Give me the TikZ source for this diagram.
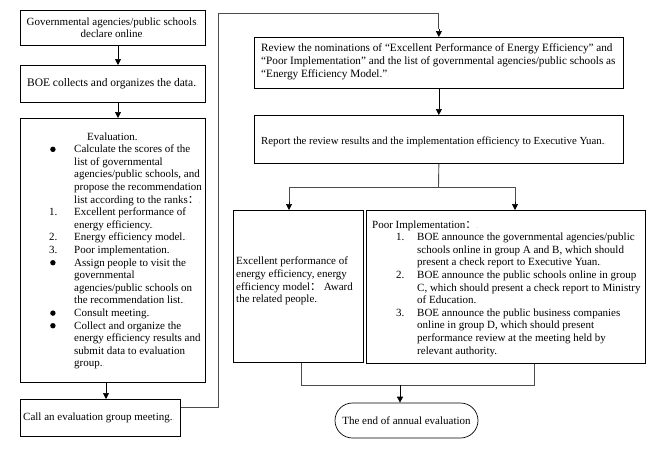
\documentclass[tikz,border=0pt]{standalone}
\usepackage{fontspec}
\setmainfont{Liberation Serif}
\newfontfamily\cjk{Noto Sans CJK SC}
\usetikzlibrary{arrows.meta,shapes.misc}
\newcommand\pmk{{\color{gray!60}\scriptsize.}}
\newcommand\fcolon{{\cjk ：}}
\newcommand\bul{\hspace*{2pt}\raisebox{0.6pt}{\tikz\fill (0,0) circle (2.7pt);}}
\tikzset{
  box/.style={draw, line width=0.7pt, inner sep=0pt, anchor=north west},
  txt/.style={inner sep=0pt, anchor=north west, align=left, font=\fontsize{11}{12.6}\selectfont},
  conn/.style={line width=0.7pt, -{Triangle[length=6pt,width=6pt]}},
  link/.style={line width=0.9pt, draw=black!70},
}
\begin{document}
\begin{tikzpicture}[x=1pt,y=-1pt]
\useasboundingbox (0,0) rectangle (659,455);
% left column boxes
\node[box, minimum width=185pt, minimum height=35pt] (b1) at (20,10) {};
\node[inner sep=0pt, align=center, font=\fontsize{11}{11.5}\selectfont] (t1) at (112.5,27.5)
  {Governmental agencies/public schools\pmk\\declare online\pmk};
\node[box, minimum width=185pt, minimum height=37pt] (b2) at (20,65) {};
\node[inner sep=0pt, font=\fontsize{11.5}{12}\selectfont] (t2) at (112.5,83.5) {BOE collects and organizes the data.\pmk};
\node[box, minimum width=185pt, minimum height=264pt] (b3) at (20,118) {};
\node[txt] (t3) at (48,131) {%
\begin{tabular}{@{}p{26pt}@{}l@{}}
 & \hspace{13pt}Evaluation.\pmk\\
\bul & Calculate the scores of the\\
 & list of governmental\\
 & agencies/public schools, and\\
 & propose the recommendation\\
 & list according to the ranks\fcolon\pmk\\
\hspace{1pt}1. & Excellent performance of\\
 & energy efficiency.\pmk\\
\hspace{1pt}2. & Energy efficiency model.\pmk\\
\hspace{1pt}3. & Poor implementation.\pmk\\
\bul & Assign people to visit the\\
 & governmental\\
 & agencies/public schools on\\
 & the recommendation list.\pmk\\
\bul & Consult meeting.\pmk\\
\bul & Collect and organize the\\
 & energy efficiency results and\\
 & submit data to evaluation\\
 & group.\pmk
\end{tabular}};
\node[box, minimum width=160pt, minimum height=37pt] (b4) at (20,399) {};
\node[txt, anchor=west] (t4) at (23,418) {Call an evaluation group meeting.\pmk};
% right side
\node[box, minimum width=369pt, minimum height=51pt] (rev) at (254,37) {};
\node[txt, font=\fontsize{11.2}{13.4}\selectfont] (trev) at (261,43) {%
Review the nominations of “Excellent Performance of Energy Efficiency” and\\
“Poor Implementation” and the list of governmental agencies/public schools as\\
“Energy Efficiency Model.”\pmk};
\node[box, minimum width=369pt, minimum height=48pt] (rep) at (254,115) {};
\node[txt, anchor=west, font=\fontsize{10.8}{12.6}\selectfont] (trep) at (261,142) {Report the review results and the implementation efficiency to Executive Yuan.\pmk};
\node[box, minimum width=130pt, minimum height=152pt] (exc) at (233,210) {};
\node[txt] (texc) at (236,257) {%
Excellent performance of\\
energy efficiency, energy\\
efficiency model\fcolon{} Award\\
the related people.\pmk};
\node[box, minimum width=279pt, minimum height=153pt] (poor) at (366,210) {};
\node[txt] (tpoor) at (372,219) {%
\begin{tabular}{@{}p{45pt}@{}l@{}}
\multicolumn{2}{@{}l@{}}{Poor Implementation\fcolon\pmk}\\
\hspace{24pt}1. & BOE announce the governmental agencies/public\\
 & schools online in group A and B, which should\\
 & present a check report to Executive Yuan.\pmk\\
\hspace{24pt}2. & BOE announce the public schools online in group\\
 & C, which should present a check report to Ministry\\
 & of Education.\pmk\\
\hspace{24pt}3. & BOE announce the public business companies\\
 & online in group D, which should present\\
 & performance review at the meeting held by\\
 & relevant authority.\pmk
\end{tabular}};
\node[draw, line width=0.7pt, rounded rectangle, minimum width=143pt, minimum height=35pt, inner sep=0pt,
  font=\fontsize{11}{12}\selectfont] (end) at (406.5,420.5) {The end of annual evaluation};
% helper coordinates
\coordinate (xa) at (118,0);
\coordinate (xb) at (106,0);
\coordinate (k1) at (218,13);
\coordinate (j) at (438.5,187);
\coordinate (xl) at (289,0);
\coordinate (xr) at (515,0);
\coordinate (xe) at (301,0);
\coordinate (xp) at (534,0);
\coordinate (m) at (400,385);
% connectors
\draw[conn] (b1.south -| xa) -- (b2.north -| xa);
\draw[conn] (b2.south -| xa) -- (b3.north -| xa);
\draw[conn] (b3.south -| xb) -- (b4.north -| xb);
\draw[link] ([yshift=10pt]b4.east) -| (k1) -| ([yshift=8pt]rev.north);
\draw[conn] ([yshift=8pt]rev.north) -- (rev.north);
\draw[conn] (rev.south) -- (rep.north);
\draw[link] (rep.south) -- (j);
\draw[link] (j) -| ([yshift=8pt]exc.north -| xl);
\draw[link] (j) -| ([yshift=8pt]poor.north -| xr);
\draw[conn] ([yshift=8pt]exc.north -| xl) -- (exc.north -| xl);
\draw[conn] ([yshift=8pt]poor.north -| xr) -- (poor.north -| xr);
\draw[link] (exc.south -| xe) |- (m);
\draw[link] (poor.south -| xp) |- (m);
\draw[conn] (m) -- (end.north -| m);
\end{tikzpicture}
\end{document}
